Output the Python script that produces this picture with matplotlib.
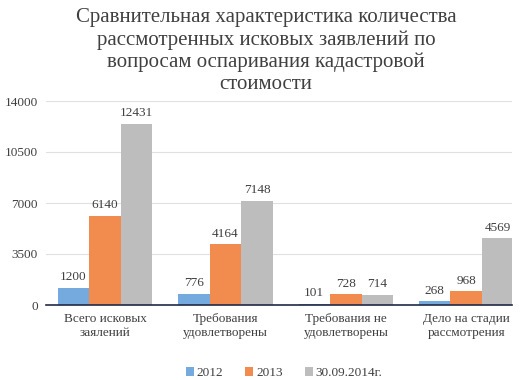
import matplotlib
matplotlib.use("Agg")
import matplotlib.pyplot as plt
import numpy as np

categories = ["Всего исковых\nзаялений", "Требования\nудовлетворены", "Требования не\nудовлетворены", "Дело на стадии\nрассмотрения"]
series_names = ["2012", "2013", "30.09.2014г."]
v2012 = [1200, 776, 101, 268]
v2013 = [6140, 4164, 728, 968]
v2014 = [12431, 7148, 714, 4569]
yticks = [0, 3500, 7000, 10500, 14000]
colors = ["#74AADD", "#F28C4E", "#BDBDBD"]

plt.rcParams['font.family'] = ['Liberation Serif', 'DejaVu Serif']

fig = plt.figure(figsize=(5.28, 3.8), dpi=100)
ax = fig.add_axes([46/528, 1-305/380, (512-46)/528, (305-101)/380])

x = np.arange(len(categories))
w = 0.262
for i, (vals, c, name) in enumerate(zip([v2012, v2013, v2014], colors, series_names)):
    pos = x + (i - 1) * w
    bars = ax.bar(pos, vals, width=w, color=c, label=name, zorder=2)
    for p, v in zip(pos, vals):
        ax.text(p, v + 300, str(v), ha='center', va='bottom', fontsize=9.5, color='#404040')

ax.set_ylim(0, 14000)
ax.set_xlim(-0.49, 3.38)
ax.set_yticks(yticks)
ax.set_yticklabels([str(t) for t in yticks], fontsize=9.5, color='#404040')
ax.set_xticks(x)
ax.set_xticklabels(categories, fontsize=9.5, color='#404040', linespacing=1.15)
ax.tick_params(length=0, pad=6)
ax.grid(axis='y', color='#E0E0E0', linewidth=0.8, zorder=0)
for s in ['top', 'right', 'left']:
    ax.spines[s].set_visible(False)
ax.spines['bottom'].set_color('#1F2A44')
ax.spines['bottom'].set_linewidth(1.2)
ax.spines['bottom'].set_zorder(3)

fig.text(0.504, 0.978, "Сравнительная характеристика количества\nрассмотренных исковых заявлений по\nвопросам оспаривания кадастровой\nстоимости",
         ha='center', va='top', fontsize=15, color='#404040', linespacing=1.19)

leg = fig.legend(loc='center', bbox_to_anchor=(0.538, 1-373/380), ncol=3, frameon=False,
                 fontsize=9.5, handlelength=0.6, handleheight=0.6, handletextpad=0.2, columnspacing=1.7)
for t in leg.get_texts():
    t.set_color('#404040')

fig.savefig("out.png", dpi=100)
